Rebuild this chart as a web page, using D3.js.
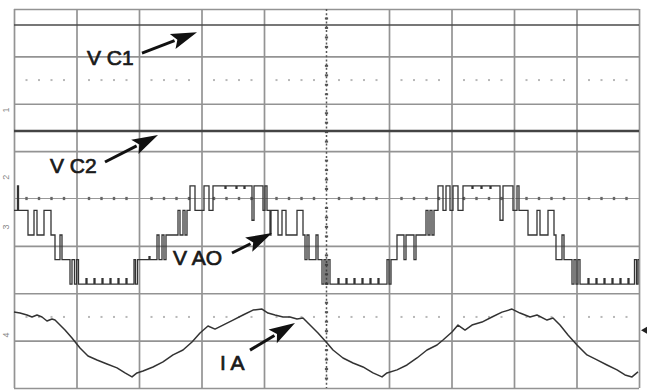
<!DOCTYPE html>
<html>
<head>
<meta charset="utf-8">
<script src="https://cdn.jsdelivr.net/npm/d3@7"></script>
<style>
  html, body { margin: 0; padding: 0; background: #fff; }
  svg { display: block; }
</style>
</head>
<body>
<svg id="scope" width="650" height="392"></svg>
<script>
// ---- Time base: 5 ms/div over 10 divisions; 8 vertical divisions ----
const timeTicks = [0, 5, 10, 15, 20, 25, 30, 35, 40, 45, 50];
const divTicks = [-4, -3, -2, -1, 0, 1, 2, 3, 4];
const minorTimes = [1,2,3,4,6,7,8,9,11,12,13,14,16,17,18,19,21,22,23,24,26,27,28,29,31,32,33,34,36,37,38,39,41,42,43,44,46,47,48,49];
const minorDivs = [-3.8,-3.6,-3.4,-3.2,-2.8,-2.6,-2.4,-2.2,-1.8,-1.6,-1.4,-1.2,-0.8,-0.6,-0.4,-0.2,0.2,0.4,0.6,0.8,1.2,1.4,1.6,1.8,2.2,2.4,2.6,2.8,3.2,3.4,3.6,3.8];
const dottedRows = [2.5, -2.5];

// ---- DC-link capacitor voltages (V) ----
const vc1Samples = [[0, 100], [50, 100]];
const vc2Samples = [[0, 100], [50, 100]];

// ---- Phase-leg output voltage VAO: step breakpoints [ms, V] ----
const vaoSteps = [
  [0.00, 100], [0.28, 200], [0.36, 100], [1.12, 0], [1.60, 100], [1.84, 0],
  [2.40, 100], [2.96, 0], [3.28, -100], [3.68, 0], [3.84, -100],
  [4.48, -200], [4.64, -100], [4.84, -200], [5.00, -100], [5.16, -200],
  [5.76, -178], [5.84, -200], [6.40, -178], [6.48, -200], [7.04, -178], [7.12, -200],
  [7.68, -178], [7.76, -200], [8.32, -178], [8.40, -200], [8.96, -178], [9.04, -200],
  [9.60, -100], [9.72, -200], [9.88, -100],
  [10.80, -88], [10.88, -100],
  [11.44, 0], [11.60, -100], [11.84, 0], [12.00, -100], [12.16, 0],
  [13.12, 100], [13.28, 0], [13.52, 100], [13.68, 0], [13.84, 100],
  [14.08, 200], [14.48, 100], [15.20, 200], [15.60, 100], [15.92, 200],
  [16.88, 190], [16.96, 200], [17.76, 190], [17.84, 200], [18.40, 190], [18.48, 200],
  [19.04, 60], [19.20, 200],
  [19.92, 100], [20.08, 200], [20.24, 100], [20.48, 0], [20.56, 100],
  [21.12, 0], [21.44, 100], [21.76, 0], [22.64, 100], [23.12, 0],
  [23.28, -100], [23.44, 0], [23.60, -100], [24.16, 0], [24.32, -100],
  [24.64, -200], [24.80, -100], [24.96, -200], [25.12, -100], [25.28, -200],
  [25.92, -178], [26.00, -200], [26.56, -178], [26.64, -200], [27.20, -178], [27.28, -200],
  [27.84, -178], [27.92, -200], [28.48, -178], [28.56, -200], [29.12, -178], [29.20, -200],
  [29.84, -100], [30.00, -200], [30.16, -100],
  [30.64, 0], [31.20, -100], [31.36, 0], [32.00, -100], [32.16, 0],
  [32.96, 100], [33.12, 0], [33.28, 100], [33.44, 0], [33.60, 100],
  [33.92, 200], [34.32, 100], [34.56, 200], [34.88, 100], [35.12, 200],
  [35.52, 100], [35.92, 200],
  [36.64, 190], [36.72, 200], [37.36, 190], [37.44, 200], [38.08, 190], [38.16, 200],
  [38.88, 60], [39.12, 200],
  [39.92, 100], [40.24, 200], [40.40, 100], [41.12, 0], [41.84, 100],
  [42.08, 0], [42.72, 100], [43.20, 0], [43.36, -100], [43.84, 0], [44.00, -100],
  [44.64, -200], [44.80, -100], [44.96, -200], [45.12, -100], [45.28, -200],
  [45.92, -178], [46.00, -200], [46.56, -178], [46.64, -200], [47.20, -178], [47.28, -200],
  [47.84, -178], [47.92, -200], [48.48, -178], [48.56, -200], [49.12, -178], [49.20, -200],
  [49.64, -100], [49.80, -200], [49.92, -100], [50.00, -100]
];

// ---- Phase current IA: samples [ms, A] ----
const iaSamples = [
  [0.00, 3.26], [0.48, 3.16], [1.04, 2.95], [1.44, 2.74], [1.84, 2.95], [2.24, 2.74],
  [2.64, 2.32], [3.04, 2.53], [3.28, 2.42], [3.52, 2.11], [4.08, 1.37], [4.64, 0.53],
  [5.28, -0.53], [5.92, -1.37], [6.64, -1.79], [7.44, -2.21], [8.24, -2.63], [8.88, -3.16],
  [9.44, -3.58], [9.84, -3.16], [10.32, -2.95], [11.12, -2.53], [11.92, -2.00], [12.72, -1.26],
  [13.52, -0.74], [14.24, 0.11], [14.88, 1.05], [15.52, 1.79], [16.08, 1.47], [16.72, 1.89],
  [17.52, 2.42], [18.32, 2.95], [19.12, 3.47], [19.84, 3.58], [20.32, 3.16], [20.88, 2.95],
  [21.52, 2.74], [22.08, 2.74], [22.64, 2.53], [23.12, 2.63], [23.68, 1.89], [24.32, 1.05],
  [25.04, 0.00], [25.52, -0.74], [26.32, -1.58], [27.12, -2.11], [27.92, -2.53], [28.72, -3.16],
  [29.44, -3.58], [29.84, -3.16], [30.64, -2.84], [31.44, -2.32], [32.24, -1.58], [33.04, -0.74],
  [33.84, -0.21], [34.32, 0.32], [35.04, 1.16], [35.52, 1.89], [36.08, 1.37], [36.64, 1.89],
  [37.44, 2.21], [38.24, 2.74], [39.04, 3.26], [39.84, 3.58], [40.48, 3.16], [41.28, 2.74],
  [41.84, 2.95], [42.64, 2.42], [43.12, 2.63], [43.68, 1.89], [44.32, 0.84], [45.04, -0.21],
  [45.84, -1.26], [46.64, -1.79], [47.44, -2.32], [48.24, -2.84], [48.88, -3.37], [49.44, -3.58],
  [49.92, -3.05]
];

// ---- Labels ----
const traceLabels = ["V C1", "V C2", "V AO", "I A"];
const channelMarks = ["1", "2", "3", "4"];

// ---- Scales ----
const svg = d3.select("#scope");
const x = d3.scaleLinear().domain([0, 50]).range([14, 639]);
const yDiv = d3.scaleLinear().domain([-4, 4]).range([388, 9]);

// vertical position (div) and sensitivity (units/div) per channel
const channels = {
  vc1: { offset: 2.66, perDiv: 100 },
  vc2: { offset: 0.425, perDiv: 100 },
  vao: { offset: -0.77, perDiv: 193 },
  ia:  { offset: -3.05, perDiv: 5 }
};
const yOf = ch => v => yDiv(ch.offset + v / ch.perDiv);

const gridColor = "#939393";
const traceColor = "#333";

// ---- Graticule ----
const grid = svg.append("g").attr("class", "graticule");

grid.append("g")
  .attr("transform", `translate(0,${yDiv(-4)})`)
  .call(d3.axisBottom(x).tickValues(timeTicks.filter(t => t !== 25)).tickSize(-(yDiv(-4) - yDiv(4))).tickFormat(""))
  .call(a => a.select(".domain").remove())
  .call(a => a.selectAll("line").attr("stroke", gridColor).attr("stroke-width", 1.7));

grid.append("g")
  .attr("transform", `translate(${x(0)},0)`)
  .call(d3.axisLeft(yDiv).tickValues(divTicks.filter(d => d !== 0)).tickSize(-(x(50) - x(0))).tickFormat(""))
  .call(a => a.select(".domain").remove())
  .call(a => a.selectAll("line").attr("stroke", gridColor).attr("stroke-width", 1.7));

// centre horizontal line with 0.2-div marks
grid.append("line")
  .attr("x1", x(0)).attr("x2", x(50)).attr("y1", yDiv(0)).attr("y2", yDiv(0))
  .attr("stroke", "#999").attr("stroke-width", 1);
grid.selectAll(".hmark").data(minorTimes).join("rect")
  .attr("x", d => x(d) - 1.2).attr("y", yDiv(0) - 1.6)
  .attr("width", 2.4).attr("height", 3.2).attr("fill", "#666");

// centre vertical line, dotted
grid.append("line")
  .attr("x1", x(25)).attr("x2", x(25)).attr("y1", yDiv(4)).attr("y2", yDiv(-4))
  .attr("stroke", "#555").attr("stroke-width", 1.5).attr("stroke-dasharray", "2,2.2");
grid.selectAll(".vmark").data(minorDivs).join("rect")
  .attr("x", x(25) - 1.6).attr("y", d => yDiv(d) - 1)
  .attr("width", 3.2).attr("height", 2).attr("fill", "#555");

// dotted rows
dottedRows.forEach(r => {
  grid.selectAll(null).data(minorTimes).join("rect")
    .attr("x", d => x(d) - 1).attr("y", yDiv(r) - 1)
    .attr("width", 2).attr("height", 2).attr("fill", "#b8b8b8");
});

// ---- Traces ----
const lineOf = (ch, curve) => d3.line()
  .x(d => x(d[0]))
  .y(d => yOf(channels[ch])(d[1]))
  .curve(curve || d3.curveLinear);

const traces = svg.append("g").attr("class", "traces").attr("fill", "none");

traces.append("path").datum(vc1Samples)
  .attr("d", lineOf("vc1"))
  .attr("stroke", "#4a4a4a").attr("stroke-width", 1.5);

traces.append("path").datum(vc2Samples)
  .attr("d", lineOf("vc2"))
  .attr("stroke", "#444").attr("stroke-width", 2.6);

traces.append("path").datum(vaoSteps)
  .attr("d", lineOf("vao", d3.curveStepAfter))
  .attr("stroke", traceColor).attr("stroke-width", 1.3)
  .attr("stroke-linejoin", "miter");

traces.append("path").datum(iaSamples)
  .attr("d", lineOf("ia"))
  .attr("stroke", traceColor).attr("stroke-width", 1.5)
  .attr("stroke-linejoin", "round");

// ---- Annotations: label text and arrow, positioned in (ms, div) ----
const notes = [
  { text: traceLabels[0], at: [5.84, 2.82],  from: [10.24, 3.07],  tip: [14.64, 3.51] },
  { text: traceLabels[1], at: [2.88, 0.54],  from: [7.28, 0.77],   tip: [11.52, 1.34] },
  { text: traceLabels[2], at: [12.72, -1.40], from: [17.44, -1.15], tip: [20.64, -0.73] },
  { text: traceLabels[3], at: [16.48, -3.62], from: [18.88, -3.20], tip: [22.48, -2.63] }
];

const ann = svg.append("g").attr("class", "annotations");
notes.forEach(n => {
  ann.append("text")
    .attr("x", x(n.at[0])).attr("y", yDiv(n.at[1]))
    .attr("font-family", "Liberation Sans, Arial, sans-serif")
    .attr("font-size", 21)
    .attr("fill", "#1a1a1a").attr("stroke", "#1a1a1a").attr("stroke-width", 0.7)
    .text(n.text);

  const x0 = x(n.from[0]), y0 = yDiv(n.from[1]);
  const x1 = x(n.tip[0]), y1 = yDiv(n.tip[1]);
  const len = Math.hypot(x1 - x0, y1 - y0);
  const ux = (x1 - x0) / len, uy = (y1 - y0) / len;
  const headLen = 26, headHalf = 8;
  const bx = x1 - ux * headLen, by = y1 - uy * headLen;
  ann.append("line")
    .attr("x1", x0).attr("y1", y0).attr("x2", bx + ux * 2).attr("y2", by + uy * 2)
    .attr("stroke", "#111").attr("stroke-width", 3);
  ann.append("path")
    .attr("d", `M${x1},${y1}L${bx - uy * headHalf},${by + ux * headHalf}L${bx + ux * 5},${by + uy * 5}L${bx + uy * headHalf},${by - ux * headHalf}Z`)
    .attr("fill", "#111");
});

// ---- Channel reference marks on the left edge ----
const markDivs = [1.87, 0.45, -0.60, -2.88];
svg.append("g").selectAll("text").data(channelMarks).join("text")
  .attr("transform", (d, i) => `translate(${x(0) - 5},${yDiv(markDivs[i])}) rotate(-90)`)
  .attr("text-anchor", "middle")
  .attr("font-family", "Liberation Sans, Arial, sans-serif")
  .attr("font-size", 9).attr("fill", "#888")
  .text(d => d);

// ---- Trigger level marker on the right edge ----
const trigY = yDiv(-2.78);
svg.append("path")
  .attr("d", `M${x(50) + 2},${trigY}L${x(50) + 8},${trigY - 3.5}L${x(50) + 8},${trigY + 3.5}Z`)
  .attr("fill", "#222");
</script>
</body>
</html>
